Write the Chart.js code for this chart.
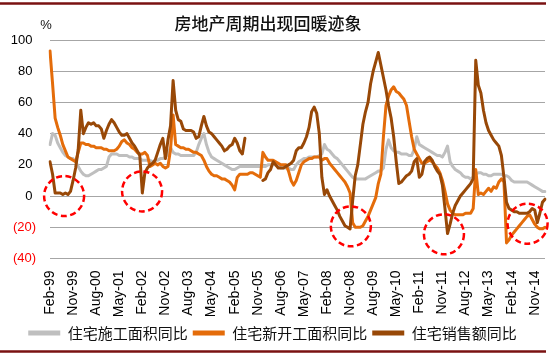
<!DOCTYPE html>
<html>
<head>
<meta charset="utf-8">
<script src="https://cdn.jsdelivr.net/npm/chart.js@4.4.1/dist/chart.umd.min.js"></script>
<style>
html,body{margin:0;padding:0;background:#fff;}
#wrap{position:relative;width:550px;height:355px;}
canvas{display:block;}
</style>
</head>
<body>
<div id="wrap"><canvas id="c" width="550" height="355"></canvas></div>
<script>
// ---- data ----
const MONTHS = ['Jan','Feb','Mar','Apr','May','Jun','Jul','Aug','Sep','Oct','Nov','Dec'];
const categories = [];
for (let k = 0; k < 194; k++) {
  const m = (1 + k) % 12;
  const y = 1999 + Math.floor((1 + k) / 12);
  categories.push(MONTHS[m] + '-' + String(y).slice(2));
}
const tickLabels = ['Feb-99','Nov-99','Aug-00','May-01','Feb-02','Nov-02','Aug-03','May-04','Feb-05','Nov-05','Aug-06','May-07','Feb-08','Nov-08','Aug-09','May-10','Feb-11','Nov-11','Aug-12','May-13','Feb-14','Nov-14'];

const seriesNames = ['住宅施工面积同比','住宅新开工面积同比','住宅销售额同比'];

const constructionYoY = [
 33,40,39,34,31,28,26,25,24,24,
 22,19,16,14,13,13,14,15,16,17,
 17,18,19,25,27,27,27,26,26,26,
 26,25,25,24,24,24,23,23,23,23,
 22,23,23,24,24,25,27,31,28,27,
 27,26,26,26,26,26,26,28,33,37,
 40,33,28,25,24,23,22,21,20,19,
 18,17,17,18,19,19,19,19,19,19,
 19,19,19,19,19,20,20,20,20,19,
 18,18,18,18,17,17,20,22,23,24,
 24,25,25,25,25,26,27,33,30,29,
 27,25,24,22,20,18,16,14,12,11,
 11,11,11,11,12,13,14,15,16,16,
 18,30,36,31,29,28,28,27,27,27,
 26,26,30,38,33,32,31,30,29,28,
 27,26,26,25,28,32,22,19,17,16,
 15,13,12,12,11,12,14,15,15,14,
 14,13,13,14,14,14,14,13,13,12,
 10,9,9,9,9,9,9,8,7,6,
 5,4,3,3
];

const newStartsYoY = [
 93,72,50,44,39,33,29,25,24,23,
 22,28,34,34,33,33,32,32,31,31,
 31,30,30,29,29,29,30,32,35,36,
 34,33,31,30,28,27,27,28,26,19,
 20,21,20,21,19,18,19,30,52,33,
 32,31,31,30,30,29,28,28,27,26,
 23,19,16,14,13,13,12,11,11,10,
 9,7,4,12,14,14,14,14,15,15,
 14,13,12,28,25,23,23,23,22,21,
 20,20,20,16,10,7,10,15,20,22,
 23,24,24,25,25,25,23,24,24,21,
 19,17,15,13,11,9,6,2,-17,-20,
 -20,-20,-19,-16,-13,-9,-5,-1,8,14,
 38,58,64,68,70,67,66,64,62,58,
 48,38,30,27,24,21,21,22,23,22,
 20,18,15,10,3,-5,-9,-11,-12,-12,
 -12,-12,-11,-11,-11,-8,17,1,2,1,
 3,5,3,6,5,9,11,9,-30,-28,
 -25,-23,-21,-19,-17,-15,-13,-12,-15,-18,
 -20,-21,-21,-20
];

const salesYoY = [
 22,14,2,2,2,1,2,1,3,10,
 18,30,55,40,44,47,46,47,45,45,
 43,37,42,46,49,47,44,41,39,39,
 40,37,34,32,29,26,2,15,18,20,
 21,23,28,33,37,24,36,45,74,55,
 49,48,43,42,42,42,41,37,38,45,
 51,45,41,40,38,36,34,32,29,30,
 32,33,37,34,29,27,37,null,null,null,
 null,null,null,10,11,15,17,22,20,18,
 18,18,19,20,21,23,29,31,31,34,
 38,44,54,57,53,40,12,1,4,0,
 -3,-6,-9,-13,-16,-19,-20,-21,-3,13,
 20,33,46,54,60,72,80,86,92,84,
 76,68,58,50,38,22,8,9,11,13,
 14,16,22,24,12,14,22,24,25,23,
 19,16,14,7,-8,-24,-18,-11,-6,-3,
 0,2,4,6,8,11,87,71,66,55,
 47,42,39,36,34,32,26,12,-4,-8,
 -9,-10,-10,-11,-11,-11,-11,-10,-8,-9,
 -17,-11,-4,-2
];

const yTicks = [-40,-20,0,20,40,60,80,100];

// highlight circles (category index, value)
const circleSpots = [
  {x: 5.5,   y: 0},
  {x: 35.9,  y: 3},
  {x: 117.3, y: -19.4},
  {x: 153.6, y: -24.5},
  {x: 186.2, y: -17.7}
];

const COLORS = ['#BFBFBF', '#E46C0A', '#984807'];
const TICKFONT = {family: "'Liberation Sans', Arial, sans-serif", size: 13};
const CJK = "'Noto Sans CJK SC', 'Noto Sans', sans-serif";

const decor = {
  id: 'decor',
  afterDatasetsDraw(chart) {
    const ctx = chart.ctx, xs = chart.scales.x, ys = chart.scales.y;
    ctx.save();
    ctx.strokeStyle = '#FF0000';
    ctx.lineWidth = 2.5;
    ctx.setLineDash([6, 3.5]);
    circleSpots.forEach(c => {
      ctx.beginPath();
      ctx.arc(xs.getPixelForValue(c.x), ys.getPixelForValue(c.y), 20, 0, Math.PI * 2);
      ctx.stroke();
    });
    ctx.restore();
  },
  afterDraw(chart) {
    const ctx = chart.ctx;
    ctx.save();
    ctx.strokeStyle = '#7A1212';
    ctx.lineWidth = 2.5;
    ctx.beginPath(); ctx.moveTo(0, 3.5); ctx.lineTo(546, 3.5); ctx.stroke();
    ctx.beginPath(); ctx.moveTo(0, 351.5); ctx.lineTo(546, 351.5); ctx.stroke();
    ctx.fillStyle = '#111';
    ctx.textAlign = 'center';
    ctx.textBaseline = 'middle';
    ctx.font = "500 17px " + CJK;
    ctx.fillText('房地产周期出现回暖迹象', 268, 24);
    ctx.font = "13px 'Liberation Sans', Arial, sans-serif";
    ctx.fillText('%', 46, 25);
    ctx.restore();
  }
};

new Chart(document.getElementById('c'), {
  type: 'line',
  data: {
    labels: categories,
    datasets: [
      {label: seriesNames[0], data: constructionYoY, borderColor: COLORS[0], backgroundColor: COLORS[0], order: 3},
      {label: seriesNames[1], data: newStartsYoY, borderColor: COLORS[1], backgroundColor: COLORS[1], order: 2},
      {label: seriesNames[2], data: salesYoY, borderColor: COLORS[2], backgroundColor: COLORS[2], order: 1}
    ]
  },
  options: {
    responsive: false,
    animation: false,
    spanGaps: false,
    elements: {
      line: {borderWidth: 3, tension: 0, fill: false, borderJoinStyle: 'round', borderCapStyle: 'round'},
      point: {radius: 0, hoverRadius: 0}
    },
    layout: {padding: {left: 0, right: 5, top: 40, bottom: 4.5}},
    plugins: {
      tooltip: {enabled: false},
      title: {display: false},
      legend: {
        position: 'bottom',
        labels: {
          boxWidth: 32, boxHeight: 5, padding: 5,
          color: '#111',
          font: {family: CJK, size: 15},
          generateLabels(chart) {
            const items = Chart.defaults.plugins.legend.labels.generateLabels(chart);
            items.forEach(it => { it.lineWidth = 0; it.fillStyle = it.strokeStyle; });
            return items.sort((a, b) => a.datasetIndex - b.datasetIndex);
          }
        }
      }
    },
    scales: {
      x: {
        type: 'category',
        offset: false,
        grid: {display: false, drawTicks: false},
        border: {display: false},
        ticks: {
          autoSkip: false, minRotation: 90, maxRotation: 90, padding: 12,
          color: '#000', font: {family: TICKFONT.family, size: 14},
          callback(value, index) {
            const lab = categories[index];
            return tickLabels.includes(lab) ? lab : '';
          }
        },
        afterFit(s) { s.height = 62; s.paddingLeft = 0; s.paddingRight = 0; }
      },
      y: {
        min: -40, max: 100,
        afterBuildTicks(s) { s.ticks = yTicks.map(v => ({value: v})); },
        grid: {color: '#A6A6A6', lineWidth: 1, drawTicks: false},
        border: {display: false},
        ticks: {
          padding: 14,
          font: TICKFONT,
          color: (c) => (c.tick && c.tick.value < 0) ? '#FF0000' : '#000',
          callback(v) { return v < 0 ? '(' + Math.abs(v) + ')' : v + ' '; }
        },
        afterFit(s) { s.width = 50; }
      }
    }
  },
  plugins: [decor]
});
</script>
</body>
</html>
